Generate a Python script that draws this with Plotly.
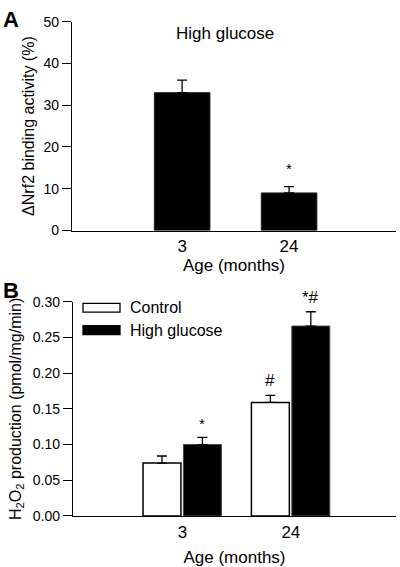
import plotly.graph_objects as go

# ---- data ----
ages = ["3", "24"]
age_pos = [1, 2]

nrf2_high_glucose = [33.0, 9.0]
nrf2_err = [3.0, 1.5]
nrf2_sig = ["", "*"]

series_names = ["Control", "High glucose"]
h2o2_control = [0.074, 0.159]
h2o2_control_err = [0.010, 0.010]
h2o2_high_glucose = [0.100, 0.266]
h2o2_high_glucose_err = [0.010, 0.020]
h2o2_control_sig = ["", "#"]
h2o2_hg_sig = ["*", "*#"]

x_title = "Age (months)"
ya_title = "ΔNrf2 binding activity (%)"
yb_title = "H<sub>2</sub>O<sub>2</sub> production (pmol/mg/min)"

FONT = "'Liberation Sans', Arial, Helvetica, sans-serif"
W, H = 400, 567

fig = go.Figure()

# Panel A
fig.add_trace(go.Bar(
    x=age_pos, y=nrf2_high_glucose, width=0.52,
    marker=dict(color="black", line=dict(color="#222", width=1)),
    error_y=dict(type="data", symmetric=False, array=nrf2_err,
                 arrayminus=[0] * len(nrf2_err), color="black",
                 thickness=1.3, width=5),
    xaxis="x", yaxis="y", showlegend=False, name="High glucose"))

# Panel B
bw = 0.35
fig.add_trace(go.Bar(
    x=age_pos, y=h2o2_control, width=bw, offset=-0.364,
    marker=dict(color="white", line=dict(color="black", width=1.5)),
    error_y=dict(type="data", symmetric=False, array=h2o2_control_err,
                 arrayminus=[0] * 2, color="black", thickness=1.3, width=5),
    xaxis="x2", yaxis="y2", showlegend=False, name=series_names[0]))
fig.add_trace(go.Bar(
    x=age_pos, y=h2o2_high_glucose, width=bw, offset=0.009,
    marker=dict(color="black", line=dict(color="#444", width=1)),
    error_y=dict(type="data", symmetric=False, array=h2o2_high_glucose_err,
                 arrayminus=[0] * 2, color="black", thickness=1.3, width=5),
    xaxis="x2", yaxis="y2", showlegend=False, name=series_names[1]))

ax_common = dict(showgrid=False, zeroline=False, showline=True,
                 linecolor="black", linewidth=1.3)

fig.update_layout(
    width=W, height=H, plot_bgcolor="white", paper_bgcolor="white",
    margin=dict(l=0, r=0, t=0, b=0), barmode="overlay",
    font=dict(family=FONT, color="black"),
    xaxis=dict(domain=[72 / W, 396 / W], anchor="y", range=[-0.03, 3],
               tickvals=age_pos, ticktext=ages, ticks="",
               tickfont=dict(size=17),
               title=dict(text=x_title, font=dict(size=17), standoff=0),
               **ax_common),
    yaxis=dict(domain=[(H - 229) / H, (H - 14) / H], anchor="x", range=[0, 50],
               tickvals=[0, 10, 20, 30, 40, 50], ticks="outside", ticklen=9,
               tickwidth=1.3, tickcolor="black", tickfont=dict(size=14),
               title=dict(text=ya_title, font=dict(size=16), standoff=4),
               **ax_common),
    xaxis2=dict(domain=[73 / W, 396 / W], anchor="y2", range=[-0.01, 2.97],
                tickvals=age_pos, ticktext=ages, ticks="",
                tickfont=dict(size=17),
                title=dict(text=x_title, font=dict(size=17), standoff=12),
                **ax_common),
    yaxis2=dict(domain=[(H - 522.7) / H, (H - 302.3) / H], anchor="x2",
                range=[0, 0.30], tickvals=[0, 0.05, 0.10, 0.15, 0.20, 0.25, 0.30],
                tickformat=".2f", ticks="outside", ticklen=9, tickwidth=1.3,
                tickcolor="black", tickfont=dict(size=14),
                title=dict(text=yb_title, font=dict(size=16), standoff=7),
                **ax_common),
)

ann = []
def pa(x, y, text, size, **kw):
    ann.append(dict(xref="paper", yref="paper", x=x / W, y=(H - y) / H,
                    text=text, showarrow=False, font=dict(size=size),
                    xanchor=kw.pop("xanchor", "center"),
                    yanchor=kw.pop("yanchor", "middle"), **kw))

# panel labels
pa(1, 12, "<b>A</b>", 22, xanchor="left")
pa(1, 291, "<b>B</b>", 22, xanchor="left")
pa(225, 26, "High glucose", 17)

# significance markers
for xp, v, e, s in zip(age_pos, nrf2_high_glucose, nrf2_err, nrf2_sig):
    if s:
        ann.append(dict(xref="x", yref="y", x=xp, y=v + e, text=s, showarrow=False,
                        yanchor="bottom", yshift=8, font=dict(size=15)))
for xp, v, e, s in zip(age_pos, h2o2_control, h2o2_control_err, h2o2_control_sig):
    if s:
        ann.append(dict(xref="x2", yref="y2", x=xp - 0.189, y=v + e, text=s,
                        showarrow=False, yanchor="bottom", yshift=3, font=dict(size=17)))
for xp, v, e, s in zip(age_pos, h2o2_high_glucose, h2o2_high_glucose_err, h2o2_hg_sig):
    if s:
        ann.append(dict(xref="x2", yref="y2", x=xp + 0.184, y=v + e, text=s,
                        showarrow=False, yanchor="bottom", yshift=3,
                        font=dict(size=17 if "#" in s else 15)))

# legend (manual)
shapes = []
for i, (name, fill) in enumerate(zip(series_names, ["white", "black"])):
    y0 = 304 + i * 23
    shapes.append(dict(type="rect", xref="paper", yref="paper",
                       x0=83 / W, x1=120 / W, y0=(H - y0) / H, y1=(H - y0 - 9) / H,
                       fillcolor=fill, line=dict(color="black", width=1.3)))
    pa(128, y0 + 4.5, name, 16, xanchor="left")

fig.update_layout(annotations=ann, shapes=shapes)
fig.write_html("out.html", config={"displayModeBar": False},
               post_script="document.body.style.margin='0';document.body.style.overflow='hidden';")
